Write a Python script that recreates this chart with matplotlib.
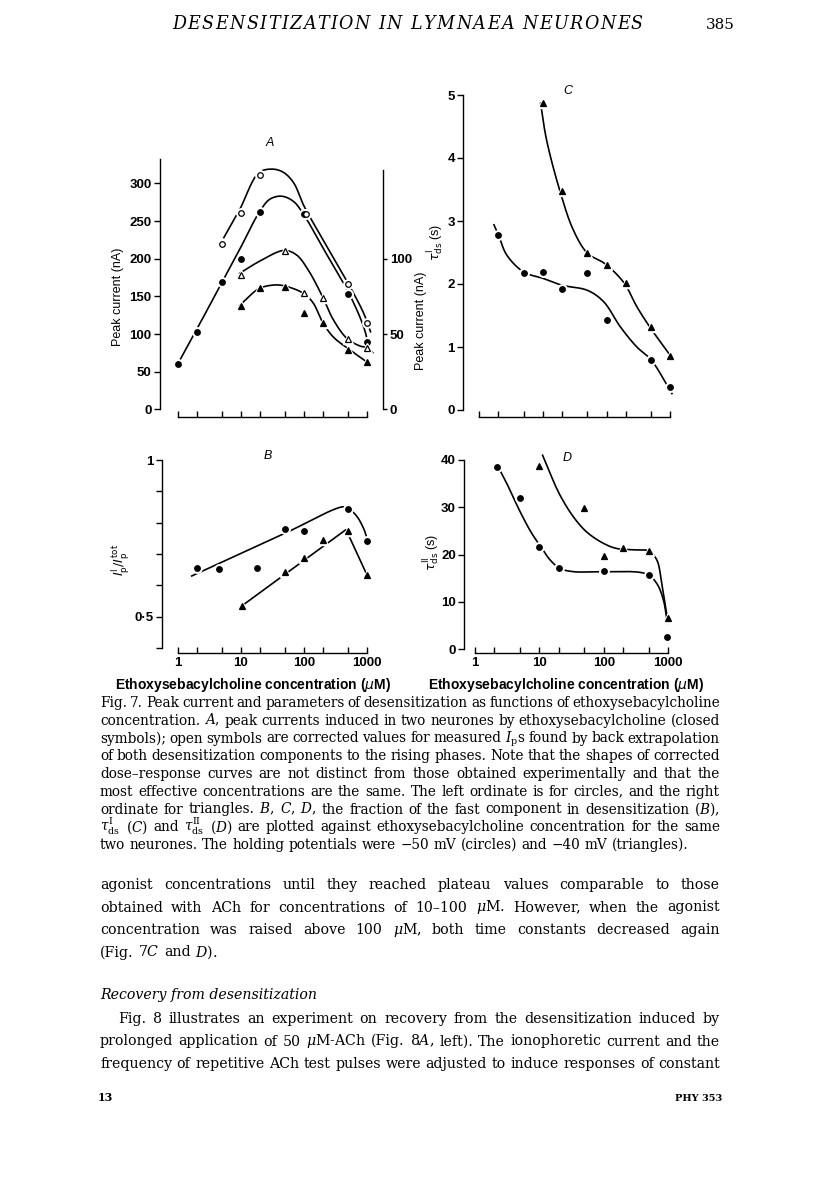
import numpy as np
import matplotlib
matplotlib.use('Agg')
import matplotlib.pyplot as plt
from matplotlib.ticker import NullFormatter

W, H = 816, 1191
SANS = 'Liberation Sans'
SERIF = 'DejaVu Serif'

# ---------------- data ----------------
# A: peak current, circles on the left ordinate (nA)
conc_a_circ = [1, 2, 5, 10, 20, 100, 500, 1000]
ip_a_circ = [60, 102, 169, 199, 262, 259, 153, 90]
conc_a_circ_corr = [5, 10, 20, 110, 500, 1000]
ip_a_circ_corr = [220, 261, 311, 259, 167, 114]
# A: triangles on the right ordinate (nA)
conc_a_tri = [10, 20, 50, 100, 200, 500, 1000]
ip_a_tri = [68.8, 80.4, 81.4, 64, 57, 39.4, 31.5]
conc_a_tri_corr = [10, 50, 100, 200, 500, 1000]
ip_a_tri_corr = [89, 105, 77.5, 74, 46.5, 41]

# hand drawn curves in A (traced knots)
fit_a_circ_c = [1, 2, 5, 10, 19.8, 29, 44.7, 69, 101, 200, 530, 890, 1100]
fit_a_circ_v = [60, 106, 168, 215, 262, 279, 283, 276, 258, 215, 153, 110, 81]
fit_a_corr_c = [5.4, 9.6, 19.3, 31, 47, 69, 101, 200, 487, 890, 1150]
fit_a_corr_v = [228, 265, 314, 319, 315, 301, 270, 226, 170, 128, 103]
fit_a_tri_c = [9.6, 19.3, 33, 49, 99, 142, 198, 295, 518, 1000]
fit_a_tri_v = [69, 80, 82.5, 82, 77, 70.5, 58, 48, 40, 31.5]
fit_a_tricorr_c = [9.6, 20.3, 49, 77, 118, 198, 295, 487, 785, 1000, 1250]
fit_a_tricorr_v = [90.3, 98.5, 105.5, 102.5, 92.5, 75, 59.5, 47, 42, 41, 37.5]

# B: fraction of fast component
conc_b_circ = [2, 4.5, 18, 50, 100, 500, 1000]
frac_b_circ = [0.654, 0.651, 0.654, 0.779, 0.775, 0.843, 0.742]
conc_b_tri = [10.5, 50, 100, 200, 500, 1000]
frac_b_tri = [0.535, 0.642, 0.686, 0.745, 0.774, 0.633]
fit_b_circ_c = [1.67, 50, 425, 520, 700, 900, 1000]
fit_b_circ_v = [0.630, 0.766, 0.851, 0.845, 0.82, 0.78, 0.753]
fit_b_tri_c = [10.5, 470, 1000]
fit_b_tri_v = [0.535, 0.778, 0.635]

# C: tau I ds (s)
conc_c_circ = [2, 5, 10, 20, 50, 100, 500, 1000]
tau1_c_circ = [2.78, 2.18, 2.19, 1.92, 2.18, 1.43, 0.80, 0.37]
conc_c_tri = [10, 20, 50, 100, 200, 500, 1000]
tau1_c_tri = [4.88, 3.47, 2.49, 2.30, 2.02, 1.32, 0.86]
fit_c_circ_c = [1.7, 2, 2.7, 5, 10, 20, 50, 90, 165, 300, 500, 1070]
fit_c_circ_v = [2.94, 2.78, 2.46, 2.19, 2.09, 1.98, 1.90, 1.72, 1.32, 1.0, 0.80, 0.26]
fit_c_tri_c = [9.2, 11.4, 18.6, 30, 50, 95, 188, 300, 485, 1000]
fit_c_tri_v = [4.87, 4.29, 3.47, 2.86, 2.49, 2.32, 2.02, 1.64, 1.31, 0.87]

# D: tau II ds (s)
conc_d_circ = [2.2, 5, 10, 20, 100, 500, 950]
tau2_d_circ = [38.5, 32, 21.7, 17.2, 16.5, 15.7, 2.7]
conc_d_tri = [10, 50, 100, 200, 500, 1000]
tau2_d_tri = [38.8, 29.9, 19.7, 21.3, 20.8, 6.7]
fit_d_circ_c = [2.3, 3.1, 5, 7.6, 10.5, 14.6, 20.8, 33.6, 98, 463, 663, 840, 970]
fit_d_circ_v = [38.5, 35.1, 29.1, 24.5, 21.7, 18.9, 17.1, 16.4, 16.4, 15.9, 13.9, 10.4, 5.5]
fit_d_tri_c = [11.2, 14.6, 20.8, 33.6, 54, 98, 158, 322, 490, 663, 790, 940]
fit_d_tri_v = [41, 37.2, 32.6, 28.0, 24.8, 22.4, 21.3, 21.0, 20.8, 18.9, 13.9, 7.6]

x_major = [1, 10, 100, 1000]
x_minor = [2, 5, 20, 50, 200, 500]
x_labels = ['1', '10', '100', '1000']

header = 'DESENSITIZATION IN LYMNAEA NEURONES'
caption = [
    'Fig. 7. Peak current and parameters of desensitization as functions of ethoxysebacylcholine',
    'concentration. $A$, peak currents induced in two neurones by ethoxysebacylcholine (closed',
    r'symbols); open symbols are corrected values for measured $I_\mathrm{p}$s found by back extrapolation',
    'of both desensitization components to the rising phases. Note that the shapes of corrected',
    'dose–response curves are not distinct from those obtained experimentally and that the',
    'most effective concentrations are the same. The left ordinate is for circles, and the right',
    'ordinate for triangles. $B$, $C$, $D$, the fraction of the fast component in desensitization ($B$),',
    r'$\tau^\mathrm{I}_\mathrm{ds}$ ($C$) and $\tau^\mathrm{II}_\mathrm{ds}$ ($D$) are plotted against ethoxysebacylcholine concentration for the same',
    'two neurones. The holding potentials were −50 mV (circles) and −40 mV (triangles).',
]
body1 = [
    'agonist concentrations until they reached plateau values comparable to those',
    r'obtained with ACh for concentrations of 10–100 $\mu$M. However, when the agonist',
    r'concentration was raised above 100 $\mu$M, both time constants decreased again',
    r'(Fig. 7$C$ and $D$).',
]
heading = 'Recovery from desensitization'
body2 = [
    'Fig. 8 illustrates an experiment on recovery from the desensitization induced by',
    r'prolonged application of 50 $\mu$M-ACh (Fig. 8$A$, left). The ionophoretic current and the',
    'frequency of repetitive ACh test pulses were adjusted to induce responses of constant',
]

plt.rcParams['font.family'] = [SANS, 'DejaVu Sans']
plt.rcParams['axes.linewidth'] = 1.0

fig = plt.figure(figsize=(W / 100, H / 100), dpi=100)
renderer = fig.canvas.get_renderer()


def px_axes(l, t, r, b):
    return fig.add_axes([l / W, 1 - b / H, (r - l) / W, (b - t) / H])


def ftext(x, y, s, **kw):
    return fig.text(x / W, 1 - y / H, s, **kw)


def log_lim(l, r, x_one, dec):
    # pixel box l..r, c=1 at x_one, one decade = dec px
    return 10 ** ((l - x_one) / dec), 10 ** ((r - x_one) / dec)


def lin_lim(t, b, y_zero, ppu):
    return (y_zero - b) / ppu, (y_zero - t) / ppu


def frame(ax, ybounds, yticks, ylabels, xlabels_on):
    ax.set_xscale('log')
    for s in ['top', 'right']:
        ax.spines[s].set_visible(False)
    ax.spines['left'].set_bounds(*ybounds)
    ax.spines['bottom'].set_bounds(1, 1000)
    ax.set_xticks(x_major)
    ax.set_xticks(x_minor, minor=True)
    ax.xaxis.set_minor_formatter(NullFormatter())
    ax.tick_params(axis='x', which='both', direction='in', length=4, width=1,
                   labelbottom=xlabels_on, labelsize=9.5, pad=3)
    if xlabels_on:
        ax.set_xticklabels(x_labels)
    ax.set_yticks(yticks)
    ax.set_yticklabels(ylabels)
    ax.tick_params(axis='y', direction='out', length=4, width=1, labelsize=9.5, pad=2)
    for lab in ax.get_xticklabels() + ax.get_yticklabels():
        lab.set_fontweight('bold')
    ax.patch.set_visible(False)


def smooth_line(ax, xs, ys, n=24):
    # centripetal Catmull-Rom through the traced knots, in screen space
    pts = ax.transData.transform(np.column_stack([xs, ys]))
    P = np.vstack([2 * pts[0] - pts[1], pts, 2 * pts[-1] - pts[-2]])
    out = [P[1]]
    for i in range(len(P) - 3):
        p0, p1, p2, p3 = P[i], P[i + 1], P[i + 2], P[i + 3]
        t1 = np.linalg.norm(p1 - p0) ** 0.5
        t2 = t1 + np.linalg.norm(p2 - p1) ** 0.5
        t3 = t2 + np.linalg.norm(p3 - p2) ** 0.5
        t = np.linspace(t1, t2, n)[1:, None]
        a1 = (t1 - t) / t1 * p0 + t / t1 * p1
        a2 = (t2 - t) / (t2 - t1) * p1 + (t - t1) / (t2 - t1) * p2
        a3 = (t3 - t) / (t3 - t2) * p2 + (t - t2) / (t3 - t2) * p3
        b1 = (t2 - t) / t2 * a1 + t / t2 * a2
        b2 = (t3 - t) / (t3 - t1) * a2 + (t - t1) / (t3 - t1) * a3
        out.extend((t2 - t) / (t2 - t1) * b1 + (t - t1) / (t2 - t1) * b2)
    xy = ax.transData.inverted().transform(np.array(out))
    ax.plot(xy[:, 0], xy[:, 1], color='black', lw=1.2, zorder=2, clip_on=False)


def markers(ax, xs, ys, marker, filled, ms):
    ax.plot(xs, ys, ls='none', marker=marker, ms=ms + 2.8, mfc='white', mec='white',
            zorder=3, clip_on=False)
    ax.plot(xs, ys, ls='none', marker=marker, ms=ms, mfc='black' if filled else 'white',
            mec='black', mew=0.9, zorder=4, clip_on=False)


MS_C, MS_T = 4.0, 4.4

# ---------------- panel A ----------------
axA = px_axes(160, 150, 382.7, 416.5)
axA.set_xlim(*log_lim(160, 382.7, 177.7, 63))
axA.set_ylim(*lin_lim(150, 416.5, 409.3, 0.753))
frame(axA, (0, 333), [0, 50, 100, 150, 200, 250, 300],
      ['0', '50', '100', '150', '200', '250', '300'], False)
axA2 = axA.twinx()
axA2.set_ylim(*lin_lim(150, 416.5, 409.3, 1.506))
for s in ['top', 'left', 'bottom']:
    axA2.spines[s].set_visible(False)
axA2.spines['right'].set_bounds(0, 159)
axA2.set_yticks([0, 50, 100])
axA2.tick_params(axis='y', direction='out', length=3, width=1, labelsize=9.5, pad=2)
for lab in axA2.get_yticklabels():
    lab.set_fontweight('bold')

smooth_line(axA, fit_a_circ_c, fit_a_circ_v)
smooth_line(axA, fit_a_corr_c, fit_a_corr_v)
smooth_line(axA2, fit_a_tri_c, fit_a_tri_v)
smooth_line(axA2, fit_a_tricorr_c, fit_a_tricorr_v)
markers(axA, conc_a_circ, ip_a_circ, 'o', True, MS_C)
markers(axA, conc_a_circ_corr, ip_a_circ_corr, 'o', False, MS_C)
markers(axA2, conc_a_tri, ip_a_tri, '^', True, MS_T)
markers(axA2, conc_a_tri_corr, ip_a_tri_corr, '^', False, MS_T)

# ---------------- panel B ----------------
axB = px_axes(161.7, 455, 380, 653.3)
axB.set_xlim(*log_lim(161.7, 380, 177.7, 63))
axB.set_ylim(*[0.5 + v for v in lin_lim(455, 653.3, 616.7, 313.3)])
frame(axB, (0.4, 1.0), [0.4, 0.5, 0.6, 0.7, 0.8, 0.9, 1.0],
      ['', '0\u00b75', '', '', '', '', '1'], True)
smooth_line(axB, fit_b_circ_c, fit_b_circ_v)
axB.plot(fit_b_tri_c, fit_b_tri_v, color='black', lw=1.2, zorder=2)
markers(axB, conc_b_circ, frac_b_circ, 'o', True, MS_C)
markers(axB, conc_b_tri, frac_b_tri, '^', True, MS_T)

# ---------------- panel C ----------------
axC = px_axes(463.3, 90, 690, 416.7)
axC.set_xlim(*log_lim(463.3, 690, 479.3, 63.6))
axC.set_ylim(*lin_lim(90, 416.7, 410, 63))
frame(axC, (0, 5), [0, 1, 2, 3, 4, 5], ['0', '1', '2', '3', '4', '5'], False)
smooth_line(axC, fit_c_circ_c, fit_c_circ_v)
smooth_line(axC, fit_c_tri_c, fit_c_tri_v)
markers(axC, conc_c_circ, tau1_c_circ, 'o', True, MS_C)
markers(axC, conc_c_tri, tau1_c_tri, '^', True, MS_T)

# ---------------- panel D ----------------
axD = px_axes(464.3, 455, 690, 653.3)
axD.set_xlim(*log_lim(464.3, 690, 475, 64.43))
axD.set_ylim(*lin_lim(455, 653.3, 649.3, 4.733))
frame(axD, (0, 40), [0, 10, 20, 30, 40], ['0', '10', '20', '30', '40'], True)
smooth_line(axD, fit_d_circ_c, fit_d_circ_v)
smooth_line(axD, fit_d_tri_c, fit_d_tri_v)
markers(axD, conc_d_circ, tau2_d_circ, 'o', True, MS_C)
markers(axD, conc_d_tri, tau2_d_tri, '^', True, MS_T)

# ---------------- axis labels ----------------
lab = dict(fontsize=9, ha='center', va='center', rotation=90, math_fontfamily='dejavusans')
ftext(118, 297, 'Peak current (nA)', **lab)
ftext(421, 321, 'Peak current (nA)', **lab)
ftext(436, 242, r'$\tau^\mathrm{I}_\mathrm{ds}$ (s)', **lab)
ftext(121, 560, r'$I^\mathrm{I}_\mathrm{p}/I^\mathrm{tot}_\mathrm{p}$', **lab)
ftext(432, 552, r'$\tau^\mathrm{II}_\mathrm{ds}$ (s)', **lab)
xl = dict(fontsize=10, weight='bold', ha='center', va='center', math_fontfamily='dejavusans')
ftext(253, 685, r'Ethoxysebacylcholine concentration ($\mu$M)', **xl)
ftext(566, 685, r'Ethoxysebacylcholine concentration ($\mu$M)', **xl)
pl = dict(fontsize=9, ha='center', va='center', style='italic')
ftext(270, 143, 'A', **pl)
ftext(268, 456, 'B', **pl)
ftext(568, 91, 'C', **pl)
ftext(567, 458, 'D', **pl)


# ---------------- page text ----------------
def width_of(s, **kw):
    t = fig.text(0, 0, s, **kw)
    w = t.get_window_extent(renderer).width
    t.remove()
    return w


def space_of(size, **kw):
    return width_of('n n', fontsize=size, **kw) - width_of('nn', fontsize=size, **kw)


def fit_size(lines, x0s, x1, squeeze=1.0, **kw):
    base = 10
    sp = space_of(base, **kw)
    worst = 0
    for ln, x0 in zip(lines, x0s):
        ws = ln.split()
        nat = sum(width_of(w, fontsize=base, **kw) for w in ws) + sp * (len(ws) - 1)
        worst = max(worst, nat / (x1 - x0))
    return base / worst * squeeze


def set_line(text, y, x0, x1, justify, size, **kw):
    words = text.split()
    objs = [ftext(x0, y, w, va='baseline', fontsize=size, **kw) for w in words]
    widths = [o.get_window_extent(renderer).width for o in objs]
    if justify and len(objs) > 1:
        gap = (x1 - x0 - sum(widths)) / (len(objs) - 1)
    else:
        gap = space_of(size, **kw)
    x = x0
    for o, w in zip(objs, widths):
        o.set_x(x / W)
        x += w + gap


serif = dict(family=SERIF, math_fontfamily='dejavuserif')
L, R = 100, 720

cap_size = fit_size(caption[:-1], [L] * 8, R, squeeze=1.03, **serif)
for i, ln in enumerate(caption):
    set_line(ln, 707 + i * 17.75, L, R, i < len(caption) - 1, cap_size, **serif)

body_size = fit_size(body1[:3] + body2, [L, L, L, 118, L, L], R, squeeze=1.0, **serif)
for i, ln in enumerate(body1):
    set_line(ln, 889 + i * 22.5, L, R, i < 3, body_size, **serif)
ftext(L, 999, heading, fontsize=body_size, style='italic', va='baseline', family=SERIF)
for i, ln in enumerate(body2):
    set_line(ln, 1023 + i * 22.5, 118 if i == 0 else L, R, True, body_size, **serif)

# running head, lightly letter spaced
hx0, hx1, htrack = 172, 643, 1.5
head_nat = width_of(header, fontsize=10, style='italic', family=SERIF)
hsize = 10 * (hx1 - hx0 - htrack * (len(header) - 1)) / head_nat
chars = list(header)
cw = [width_of(c, fontsize=hsize, style='italic', family=SERIF) if c != ' '
      else space_of(hsize, family=SERIF) for c in chars]
track = (hx1 - hx0 - sum(cw)) / (len(chars) - 1)
x = hx0
for c, w in zip(chars, cw):
    if c != ' ':
        ftext(x, 29, c, fontsize=hsize, style='italic', family=SERIF, va='baseline')
    x += w + track
ftext(735, 29, '385', fontsize=11, family=SERIF, ha='right', va='baseline')

ftext(98, 1101, '13', fontsize=8, family=SERIF, weight='bold', va='baseline')
ftext(722, 1101, 'PHY 353', fontsize=7, family=SERIF, weight='bold', ha='right', va='baseline')

fig.savefig('out.png', dpi=100, facecolor='white')
